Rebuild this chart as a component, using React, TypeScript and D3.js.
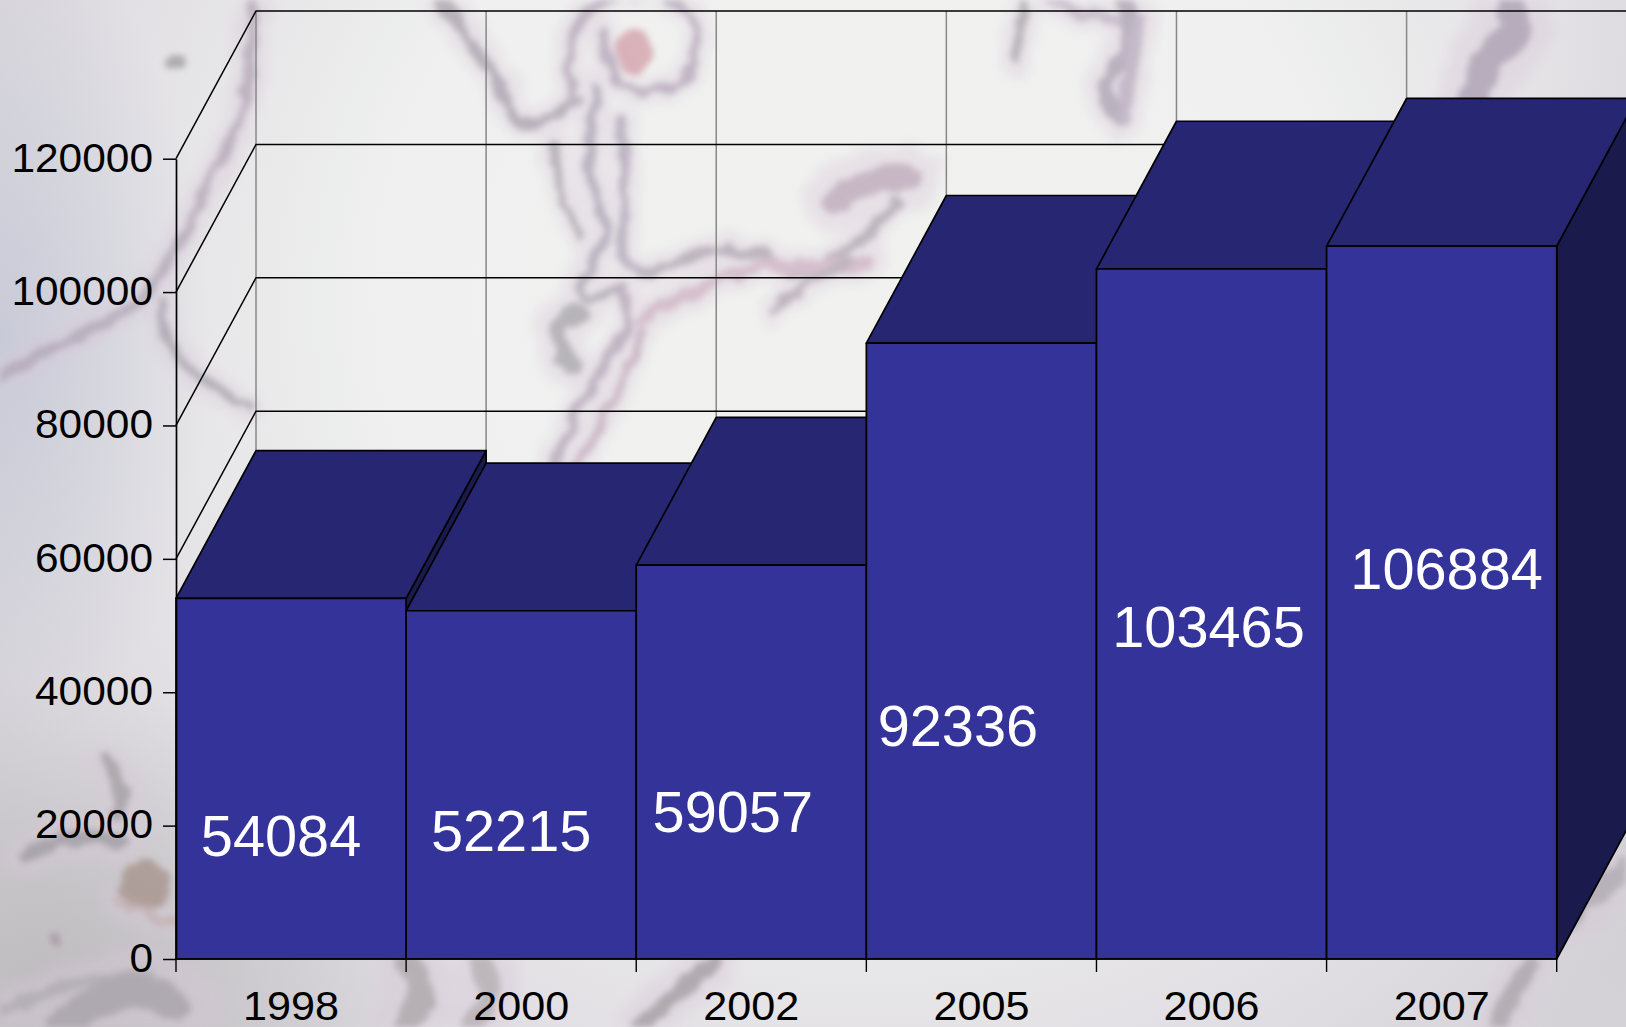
import React, { useRef, useEffect } from 'react';
import * as d3 from 'd3';

const years = ['1998', '2000', '2002', '2005', '2006', '2007'];
const totals = [54084, 52215, 59057, 92336, 103465, 106884];
const yTicks = [0, 20000, 40000, 60000, 80000, 100000, 120000];

// the value labels were dragged by hand in the original, so each has its own shift
const labelShiftX = [-10, -10, -18.5, -23.5, -3, 5];
const labelShiftY = [77, 66.6, 70, 95, 33, -13.5];

const width = 1626;
const height = 1027;
const plot = { left: 176, right: 1556.7, top: 158.7, bottom: 959 };
const depth = { x: 80, y: 147.7 };

// background photo, roughly traced: [colour, stroke width, points]
type Strand = [string, number, [number, number][]];
const strands: Strand[] = [
    ['#a09aa6', 9, [[440, 0], [470, 40], [500, 85], [518, 120], [545, 122], [575, 98]]],
    ['#aea0b4', 7, [[575, 98], [568, 50], [590, 10], [640, -6], [690, 12], [696, 50], [680, 82], [640, 92], [612, 70], [602, 30]]],
    ['#a49eb0', 8, [[596, 88], [590, 140], [592, 185], [606, 232], [582, 280]]],
    ['#a8a0b4', 7, [[620, 120], [626, 200], [624, 258], [650, 275]]],
    ['#a09ea4', 7, [[553, 145], [565, 200], [578, 236]]],
    ['#a49eaa', 8, [[582, 282], [580, 290], [590, 300], [615, 285]]],
    ['#ae9fb2', 8, [[620, 285], [628, 325], [600, 372], [572, 422], [552, 468]]],
    ['#c0a6b8', 7, [[642, 330], [622, 382], [592, 440], [570, 470]]],
    ['#a09ea2', 14, [[578, 312], [558, 330], [572, 368]]],
    ['#a89eaa', 8, [[650, 272], [720, 250], [762, 255], [800, 272], [862, 240], [895, 200]]],
    ['#ccaec0', 9, [[640, 320], [700, 288], [762, 266], [812, 268], [870, 262]]],
    ['#ac9fac', 7, [[772, 312], [800, 288], [850, 262]]],
    ['#b8a2b4', 20, [[835, 200], [870, 182], [910, 178]]],
    ['#a09ea2', 8, [[1025, 0], [1020, 30], [1016, 60]]],
    ['#bcaec2', 8, [[1050, 0], [1085, 14], [1125, 22]]],
    ['#a49aac', 12, [[1125, 0], [1128, 45], [1105, 90], [1120, 118]]],
    ['#b2a6ba', 10, [[1140, 20], [1132, 60], [1124, 118]]],
    ['#a296aa', 24, [[1510, 0], [1514, 30], [1490, 55], [1476, 95]]],
    ['#aca0b0', 8, [[255, 0], [250, 60], [240, 120], [215, 172], [175, 250], [140, 300], [90, 330], [40, 355], [0, 380]]],
    ['#9c9aa2', 7, [[163, 300], [166, 335], [182, 362], [212, 386], [246, 406]]],
    ['#989698', 10, [[105, 760], [122, 792], [118, 815]]],
    ['#96949a', 10, [[28, 856], [70, 838], [122, 842]]],
    ['#c0aaa8', 7, [[118, 900], [176, 925]]],
    ['#aaa8ac', 10, [[0, 1010], [70, 985], [150, 975]]],
    ['#a09ca2', 26, [[60, 1027], [130, 990], [176, 1005]]],
    ['#a49ea0', 22, [[405, 1027], [420, 990], [410, 965]]],
    ['#ada7aa', 18, [[470, 1027], [490, 990], [480, 965]]],
    ['#989396', 14, [[640, 1027], [680, 990], [712, 965]]],
    ['#a29da2', 14, [[1498, 1027], [1515, 990], [1530, 965]]],
    ['#a8a4aa', 16, [[1570, 920], [1600, 890], [1626, 870]]],
];
const specks: [string, number, number, number][] = [
    ['#8f8f94', 176, 62, 8],
    ['#a2909a', 57, 941, 6],
    ['#cf929e', 634, 50, 21],
    ['#a08a80', 146, 885, 24],
];

export default function App() {
    const svgRef = useRef<SVGSVGElement>(null);

    useEffect(() => {
        const svg = d3.select(svgRef.current);
        svg.selectAll('*').remove();

        const x = d3.scaleBand().domain(years).range([plot.left, plot.right]).padding(0);
        const y = d3.scaleLinear().domain([0, 120000]).range([plot.bottom, plot.top]);
        const bw = x.bandwidth();
        const font = '"Liberation Sans", Arial, sans-serif';

        // ---- background ----
        const defs = svg.append('defs');
        const radial = defs.append('radialGradient')
            .attr('id', 'paper')
            .attr('gradientUnits', 'userSpaceOnUse')
            .attr('cx', 860).attr('cy', 300).attr('r', 1000);
        radial.append('stop').attr('offset', '0%').attr('stop-color', '#f1f2f0');
        radial.append('stop').attr('offset', '48%').attr('stop-color', '#eff0ef');
        radial.append('stop').attr('offset', '78%').attr('stop-color', '#e2e0e4');
        radial.append('stop').attr('offset', '100%').attr('stop-color', '#d6d3d8');

        const addPatch = (id: string, colour: string, cx: number, cy: number, rx: number, ry: number, alpha: number) => {
            const g = defs.append('radialGradient').attr('id', id);
            g.append('stop').attr('offset', '0%').attr('stop-color', colour).attr('stop-opacity', alpha);
            g.append('stop').attr('offset', '100%').attr('stop-color', colour).attr('stop-opacity', 0);
            return () => svg.append('ellipse')
                .attr('cx', cx).attr('cy', cy).attr('rx', rx).attr('ry', ry)
                .attr('fill', `url(#${id})`);
        };
        const lavender = addPatch('lavender', '#c0c3d4', 0, 340, 210, 420, 0.7);
        const corner = addPatch('corner', '#bab7bb', 40, 980, 420, 300, 0.8);
        const rightEdge = addPatch('rightEdge', '#c8c8ce', 1640, 560, 190, 620, 0.6);

        // rough, out of focus look for the tissue strands
        const rough = (id: string, scale: number, blur: number) => {
            const f = defs.append('filter')
                .attr('id', id)
                .attr('filterUnits', 'userSpaceOnUse')
                .attr('x', 0).attr('y', 0).attr('width', width).attr('height', height);
            f.append('feTurbulence')
                .attr('type', 'fractalNoise').attr('baseFrequency', 0.045).attr('numOctaves', 2).attr('seed', 7)
                .attr('result', 'noise');
            f.append('feDisplacementMap')
                .attr('in', 'SourceGraphic').attr('in2', 'noise').attr('scale', scale)
                .attr('xChannelSelector', 'R').attr('yChannelSelector', 'G')
                .attr('result', 'moved');
            f.append('feGaussianBlur').attr('in', 'moved').attr('stdDeviation', blur);
        };
        rough('halo', 18, 6);
        rough('core', 16, 3.2);

        svg.append('rect').attr('width', width).attr('height', height).attr('fill', 'url(#paper)');
        lavender();
        corner();
        rightEdge();

        const strandLine = d3.line().curve(d3.curveCatmullRom);
        svg.append('g')
            .attr('filter', 'url(#halo)')
            .attr('opacity', 0.38)
            .selectAll('path')
            .data(strands)
            .join('path')
            .attr('d', d => strandLine(d[2]))
            .attr('fill', 'none')
            .attr('stroke', '#d8c8d8')
            .attr('stroke-width', d => d[1] * 2.8 + 8)
            .attr('stroke-linecap', 'round');

        const bg = svg.append('g').attr('filter', 'url(#core)').attr('opacity', 0.66);
        bg.selectAll('path')
            .data(strands)
            .join('path')
            .attr('d', d => strandLine(d[2]))
            .attr('fill', 'none')
            .attr('stroke', d => d[0])
            .attr('stroke-width', d => d[1] * 1.25)
            .attr('stroke-linecap', 'round')
            .attr('stroke-linejoin', 'round');
        bg.selectAll('circle')
            .data(specks)
            .join('circle')
            .attr('cx', d => d[1])
            .attr('cy', d => d[2])
            .attr('r', d => d[3])
            .attr('fill', d => d[0]);

        // ---- walls ----
        svg.append('g')
            .selectAll('line')
            .data(d3.range(0, years.length + 1))
            .join('line')
            .attr('x1', i => plot.left + depth.x + i * bw)
            .attr('x2', i => plot.left + depth.x + i * bw)
            .attr('y1', plot.top - depth.y)
            .attr('y2', plot.bottom - depth.y)
            .attr('stroke', '#878787')
            .attr('stroke-width', 1.5);

        const grid = svg.append('g')
            .attr('fill', 'none')
            .attr('stroke', '#000')
            .attr('stroke-width', 1.5);
        grid.selectAll('path')
            .data(yTicks)
            .join('path')
            .attr('d', d => `M${plot.left},${y(d)}L${plot.left + depth.x},${y(d) - depth.y}H${plot.right + depth.x}`);

        // ---- bars, left to right so each one covers the previous side face ----
        const bars = svg.append('g')
            .attr('stroke', '#000')
            .attr('stroke-width', 1.7)
            .attr('stroke-linejoin', 'round');
        years.forEach((year, i) => {
            const x0 = x(year)!;
            const x1 = x0 + bw;
            const top = y(totals[i]);
            const base = y(0);
            bars.append('path')
                .attr('d', `M${x1},${top}L${x1 + depth.x},${top - depth.y}V${base - depth.y}L${x1},${base}Z`)
                .attr('fill', '#1a1a4d');
            bars.append('path')
                .attr('d', `M${x0},${top}L${x0 + depth.x},${top - depth.y}H${x1 + depth.x}L${x1},${top}Z`)
                .attr('fill', '#262673');
            bars.append('rect')
                .attr('x', x0)
                .attr('y', top)
                .attr('width', bw)
                .attr('height', base - top)
                .attr('fill', '#333399');
        });

        // ---- axes ----
        // text in the original is a little wider than its height, hence textLength
        svg.append('g')
            .attr('transform', `translate(${plot.left},0)`)
            .call(d3.axisLeft(y).tickValues(yTicks).tickFormat(d => String(d)).tickSize(13).tickSizeOuter(0).tickPadding(10))
            .call(g => g.select('.domain').attr('stroke', '#000').attr('stroke-width', 1.7))
            .call(g => g.selectAll('.tick line').attr('stroke', '#000').attr('stroke-width', 1.5))
            .call(g => g.selectAll('.tick text')
                .attr('font-size', 41)
                .attr('font-family', font)
                .attr('fill', '#000')
                .attr('dy', '0.3em')
                .attr('textLength', (d: any) => String(d).length * 23.6)
                .attr('lengthAdjust', 'spacingAndGlyphs'));

        const xAxis = svg.append('g').attr('transform', `translate(0,${plot.bottom})`);
        xAxis.append('line')
            .attr('x1', plot.left).attr('x2', plot.right)
            .attr('stroke', '#000').attr('stroke-width', 1.7);
        xAxis.selectAll('.edge')
            .data(d3.range(0, years.length + 1))
            .join('line')
            .attr('class', 'edge')
            .attr('x1', i => plot.left + i * bw)
            .attr('x2', i => plot.left + i * bw)
            .attr('y2', 13)
            .attr('stroke', '#000')
            .attr('stroke-width', 1.4);
        xAxis.selectAll('text')
            .data(years)
            .join('text')
            .attr('x', d => x(d)! + bw / 2)
            .attr('y', 61)
            .attr('text-anchor', 'middle')
            .attr('font-size', 41)
            .attr('font-family', font)
            .attr('fill', '#000')
            .attr('textLength', 4 * 24)
            .attr('lengthAdjust', 'spacingAndGlyphs')
            .text(d => d);

        // ---- value labels ----
        svg.append('g')
            .selectAll('text')
            .data(totals)
            .join('text')
            .attr('x', (d, i) => x(years[i])! + bw / 2 + labelShiftX[i])
            .attr('y', (d, i) => y(d / 2) + labelShiftY[i])
            .attr('text-anchor', 'middle')
            .attr('font-size', 57)
            .attr('font-family', font)
            .attr('fill', '#fff')
            .attr('textLength', d => String(d).length * 32.1)
            .attr('lengthAdjust', 'spacingAndGlyphs')
            .text(d => d);
    }, []);

    return (
        <svg
            ref={svgRef}
            width={width}
            height={height}
            viewBox={`0 0 ${width} ${height}`}
            style={{ position: 'absolute', left: 0, top: 0, display: 'block', overflow: 'hidden' }}
        />
    );
}
